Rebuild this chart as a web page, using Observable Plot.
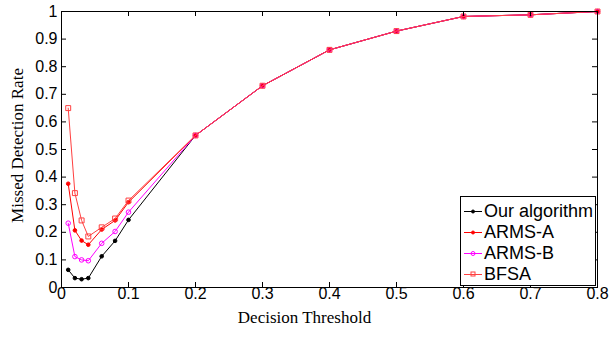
<!DOCTYPE html>
<html>
<head>
<meta charset="utf-8">
<script src="https://cdn.jsdelivr.net/npm/d3@7"></script>
<script src="https://cdn.jsdelivr.net/npm/@observablehq/plot@0.6"></script>
<style>
  html, body { margin: 0; padding: 0; background: #fff; }
  #wrap { position: relative; width: 610px; height: 338px; }
  #legend {
    position: absolute; left: 460px; top: 196px; width: 136px; height: 90px;
    border: 1px solid #000; background: #fff; box-sizing: border-box;
    font-family: "Liberation Sans", Arial, sans-serif; font-size: 18px; color: #000;
  }
  #legend .row { position: absolute; left: 2px; height: 21px; display: flex; align-items: center; }
  #legend .row svg { width: 20px; height: 21px; margin-right: 1px; }
</style>
</head>
<body>
<div id="wrap"><div id="chart"></div><div id="legend"></div></div>
<script>
const thresholds = [0.01, 0.02, 0.03, 0.04, 0.06, 0.08, 0.1, 0.2, 0.3, 0.4, 0.5, 0.6, 0.7, 0.8];
const ourAlgorithm = [0.064, 0.034, 0.030, 0.034, 0.113, 0.169, 0.245, 0.551, 0.731, 0.861, 0.929, 0.982, 0.988, 1.0];
const armsA = [0.376, 0.207, 0.170, 0.155, 0.210, 0.243, 0.309, 0.551, 0.731, 0.861, 0.929, 0.982, 0.988, 1.0];
const armsB = [0.233, 0.112, 0.100, 0.097, 0.160, 0.203, 0.273, 0.551, 0.731, 0.861, 0.929, 0.982, 0.988, 1.0];
const bfsa = [0.650, 0.342, 0.243, 0.185, 0.218, 0.250, 0.315, 0.551, 0.731, 0.861, 0.929, 0.982, 0.988, 1.0];

const seriesNames = ["Our algorithm", "ARMS-A", "ARMS-B", "BFSA"];
const seriesValues = [ourAlgorithm, armsA, armsB, bfsa];
const seriesColors = ["#000000", "#ff0000", "#ff00ff", "#ff4040"];
const seriesSymbols = ["circle", "circle", "circle", "square"];
const seriesFill = [true, true, false, false];
const seriesR = [1.8, 1.8, 2.3, 2.8];

const xTicks = [0, 0.1, 0.2, 0.3, 0.4, 0.5, 0.6, 0.7, 0.8];
const yTicks = [0, 0.1, 0.2, 0.3, 0.4, 0.5, 0.6, 0.7, 0.8, 0.9, 1];
const xLabel = "Decision Threshold";
const yLabel = "Missed Detection Rate";

const W = 610, H = 338, mL = 61, mR = 13, mT = 11, mB = 51;
const plotH = H - mT - mB, plotW = W - mL - mR;
const tickLen = 5;

const marks = [];
seriesNames.forEach((name, i) => {
  const data = thresholds.map((t, j) => ({x: t, y: seriesValues[i][j]}));
  marks.push(Plot.line(data, {x: "x", y: "y", stroke: seriesColors[i], strokeWidth: 1}));
  marks.push(Plot.dot(data, {
    x: "x", y: "y", symbol: seriesSymbols[i], r: seriesR[i],
    stroke: seriesColors[i], strokeWidth: 1,
    fill: seriesFill[i] ? seriesColors[i] : "none"
  }));
});

const chart = Plot.plot({
  width: W, height: H,
  marginLeft: mL, marginRight: mR, marginTop: mT, marginBottom: mB,
  style: {fontFamily: "'Liberation Sans', Arial, sans-serif", fontSize: "16px", color: "#000", background: "#fff"},
  x: {domain: [0, 0.8], ticks: xTicks},
  y: {domain: [0, 1], ticks: yTicks},
  marks: [
    ...marks,
    Plot.frame({stroke: "#000", strokeWidth: 1}),
    Plot.tickX(xTicks, {x: d => d, insetTop: plotH - tickLen, stroke: "#000"}),
    Plot.tickX(xTicks, {x: d => d, insetBottom: plotH - tickLen, stroke: "#000"}),
    Plot.tickY(yTicks, {y: d => d, insetRight: plotW - tickLen, stroke: "#000"}),
    Plot.tickY(yTicks, {y: d => d, insetLeft: plotW - tickLen, stroke: "#000"}),
    Plot.axisX({ticks: xTicks, tickSize: 0, tickPadding: 0, label: null, fontSize: 16, tickFormat: d3.format("~g")}),
    Plot.axisY({ticks: yTicks, tickSize: 0, tickPadding: 4, label: null, fontSize: 16, tickFormat: d3.format("~g")}),
    Plot.text([xLabel], {frameAnchor: "bottom", text: d => d, dx: -25, dy: 35, fontFamily: "'Liberation Serif', 'Times New Roman', serif", fontSize: 17}),
    Plot.text([yLabel], {frameAnchor: "left", textAnchor: "middle", text: d => d, rotate: -90, dx: -44, dy: -4, fontFamily: "'Liberation Serif', 'Times New Roman', serif", fontSize: 17})
  ]
});
document.getElementById("chart").appendChild(chart);

const legend = document.getElementById("legend");
seriesNames.forEach((name, i) => {
  const row = document.createElement("div");
  row.className = "row";
  row.style.top = (4 + i * 21) + "px";
  const c = seriesColors[i];
  let marker;
  if (seriesSymbols[i] === "square") marker = `<rect x="8" y="8" width="4" height="4" fill="none" stroke="${c}"/>`;
  else marker = `<circle cx="10" cy="10.5" r="${seriesFill[i] ? 1.5 : 2}" fill="${seriesFill[i] ? c : 'none'}" stroke="${c}"/>`;
  row.innerHTML = `<svg viewBox="0 0 20 21"><line x1="1" x2="19" y1="10.5" y2="10.5" stroke="${c}" stroke-width="1"/>${marker}</svg><span>${name}</span>`;
  legend.appendChild(row);
});
</script>
</body>
</html>
